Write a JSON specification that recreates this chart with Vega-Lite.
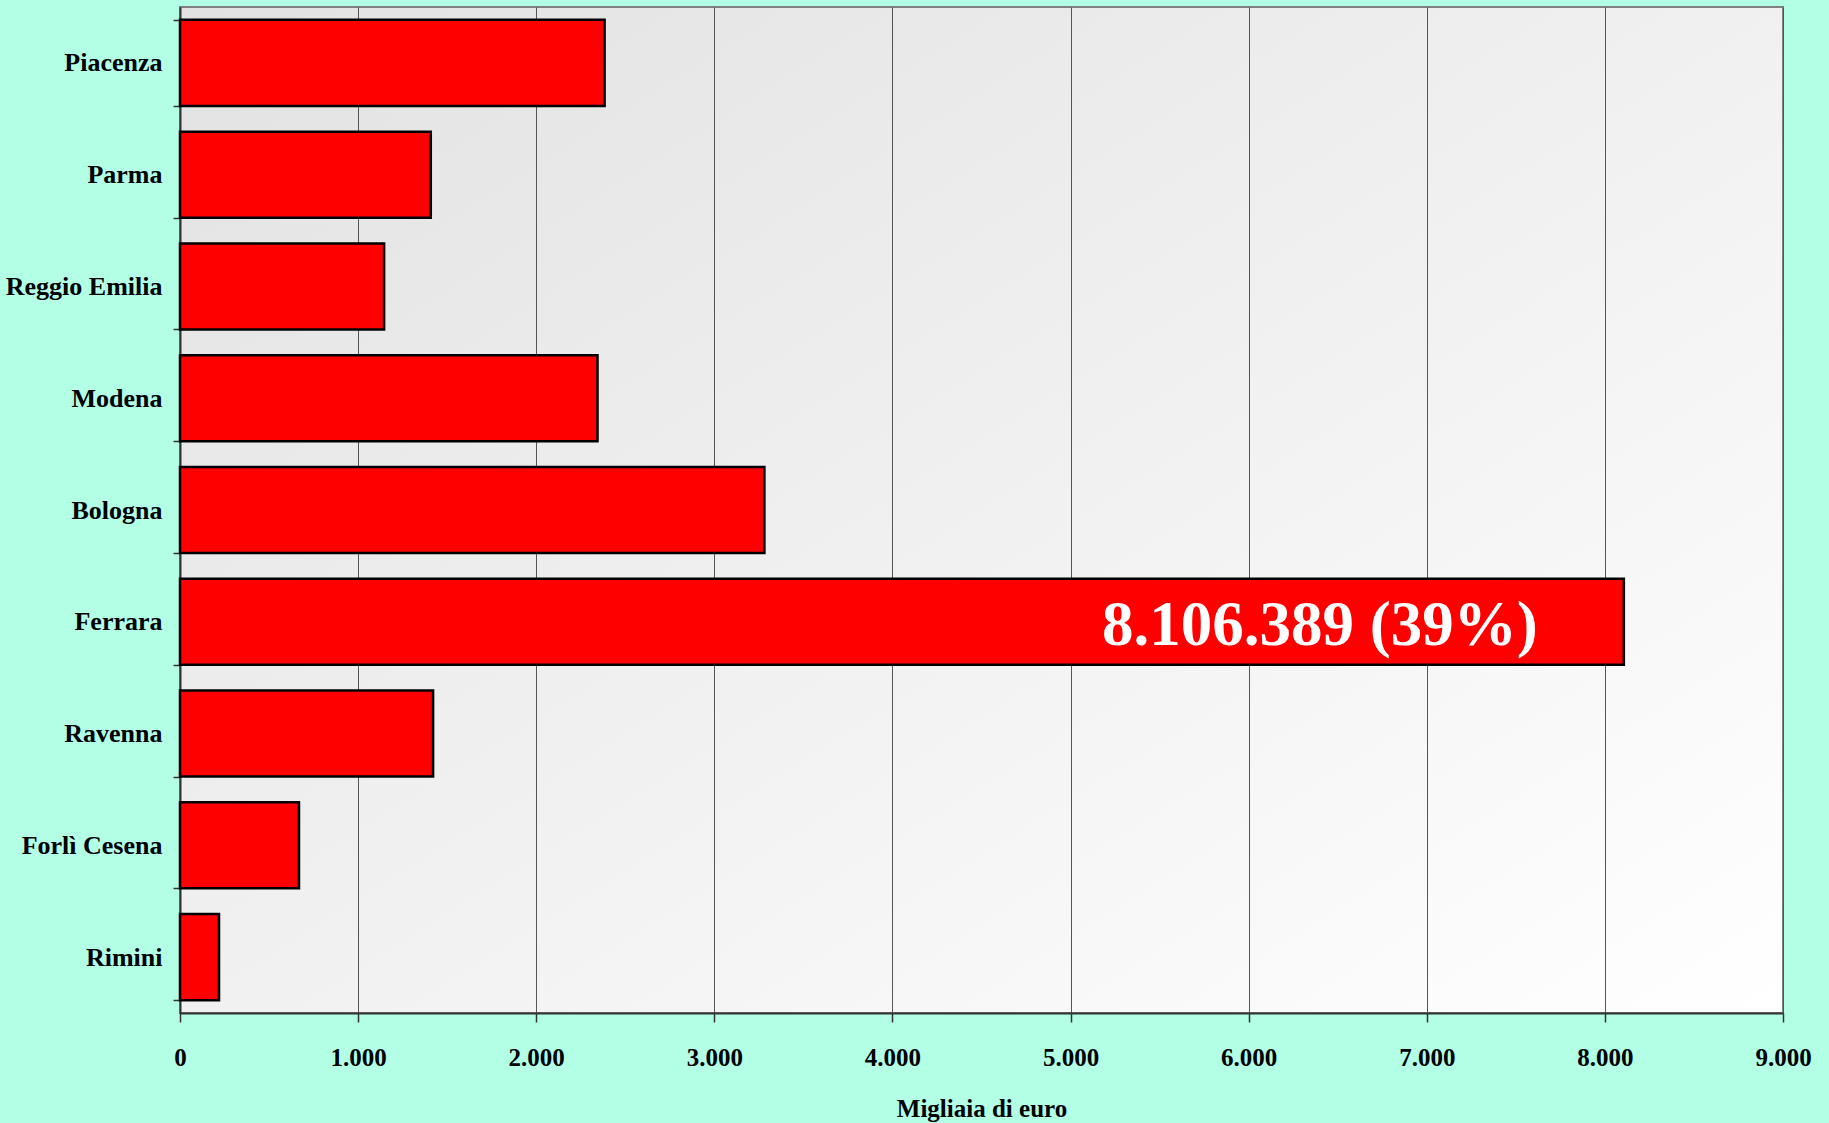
{
  "$schema": "https://vega.github.io/schema/vega-lite/v6.json",
  "autosize": {"type": "none"},
  "width": 1603,
  "height": 1006,
  "padding": {"left": 180, "top": 7, "right": 46, "bottom": 110},
  "background": "#b2ffe6",
  "config": {
    "font": "Liberation Serif",
    "view": {
      "fill": {"gradient": "linear", "x1": 0, "y1": 0, "x2": 1, "y2": 1, "stops": [{"offset": 0, "color": "#e2e2e2"}, {"offset": 1, "color": "#ffffff"}]},
      "stroke": "#808080",
      "strokeWidth": 2
    }
  },
  "data": {
    "values": [
      {"provincia": "Piacenza", "valore": 2384},
      {"provincia": "Parma", "valore": 1408},
      {"provincia": "Reggio Emilia", "valore": 1146},
      {"provincia": "Modena", "valore": 2344},
      {"provincia": "Bologna", "valore": 3281},
      {"provincia": "Ferrara", "valore": 8106.389, "etichetta": "8.106.389 (39%)"},
      {"provincia": "Ravenna", "valore": 1421},
      {"provincia": "Forlì Cesena", "valore": 668},
      {"provincia": "Rimini", "valore": 219}
    ]
  },
  "encoding": {
    "y": {
      "field": "provincia", "type": "nominal", "sort": null,
      "scale": {"paddingInner": 0.23, "paddingOuter": 0.115},
      "axis": {
        "title": null, "tickBand": "extent", "tickSize": 7, "tickColor": "#333333", "tickWidth": 1.5,
        "domainColor": "#333333", "domainWidth": 2,
        "labelFont": "Liberation Serif", "labelFontWeight": "bold", "labelFontSize": 26, "labelColor": "#000000",
        "labelPadding": 11, "grid": false, "labelLimit": 300
      }
    },
    "x": {
      "field": "valore", "type": "quantitative",
      "scale": {"domain": [0, 9000], "nice": false},
      "axis": {
        "title": "Migliaia di euro", "titleFont": "Liberation Serif", "titleFontWeight": "bold", "titleFontSize": 25, "titleColor": "#000000", "titlePadding": 26,
        "values": [0, 1000, 2000, 3000, 4000, 5000, 6000, 7000, 8000, 9000],
        "labelExpr": "replace(format(datum.value, ',d'), ',', '.')",
        "labelFlush": false,
        "labelFont": "Liberation Serif", "labelFontWeight": "bold", "labelFontSize": 25, "labelColor": "#000000",
        "labelPadding": 23, "tickSize": 9, "tickColor": "#333333", "tickWidth": 1.5,
        "domainColor": "#333333", "domainWidth": 2,
        "grid": true, "gridColor": "#555555", "gridWidth": 1
      }
    }
  },
  "layer": [
    {"mark": {"type": "bar", "color": "#ff0000", "stroke": "#000000", "strokeWidth": 2.5}},
    {
      "transform": [{"filter": "datum.etichetta != null"}],
      "mark": {"type": "text", "align": "right", "baseline": "middle", "dx": -86, "dy": 4, "font": "Liberation Serif", "fontWeight": "bold", "fontSize": 63, "color": "#ffffff"},
      "encoding": {"text": {"field": "etichetta"}}
    }
  ]
}
